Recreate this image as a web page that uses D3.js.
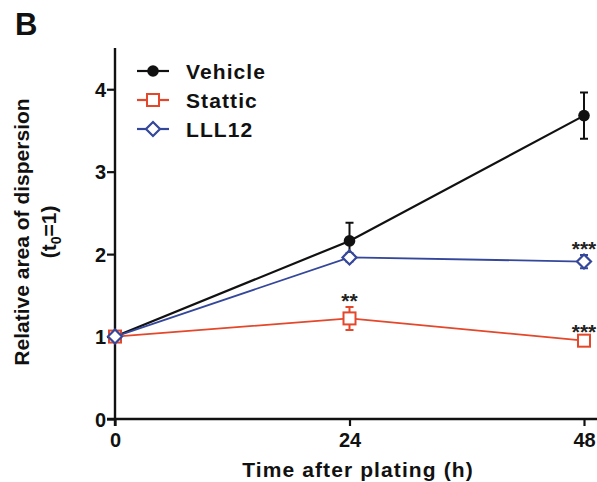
<!DOCTYPE html>
<html>
<head>
<meta charset="utf-8">
<script src="https://cdn.jsdelivr.net/npm/d3@7"></script>
<style>
  body { margin: 0; background: #fff; }
  svg { display: block; font-family: Arial, "Liberation Sans", sans-serif; font-weight: bold; }
</style>
</head>
<body>
<script>
// time points (h)
var times = [0, 24, 48];
var yTicks = [0, 1, 2, 3, 4];
var xTicks = [0, 24, 48];

var vehicleMean = [1, 2.16, 3.68];
var vehicleErr  = [0, 0.22, 0.28];
var statticMean = [1, 1.22, 0.95];
var statticErr  = [0, 0.14, 0.03];
var lllMean     = [1, 1.96, 1.91];
var lllErr      = [0, 0.05, 0.08];

// significance marks: [series, time index, label]
var stars = [
    {series: 'stattic', i: 1, label: '**'},
    {series: 'lll', i: 2, label: '***'},
    {series: 'stattic', i: 2, label: '***'}
];

var W = 597, H = 482;
var FONT = 'Arial, "Liberation Sans", sans-serif';
var svg = d3.select('body').append('svg').attr('width', W).attr('height', H);

var x = d3.scaleLinear().domain([0, 48]).range([115, 584]);
var y = d3.scaleLinear().domain([0, 4.5]).range([419, 48]);

var series = [
    {key: 'vehicle', name: 'Vehicle', mean: vehicleMean, err: vehicleErr, color: '#111111', shape: 'circle'},
    {key: 'stattic', name: 'Stattic', mean: statticMean, err: statticErr, color: '#e4472a', shape: 'square'},
    {key: 'lll', name: 'LLL12', mean: lllMean, err: lllErr, color: '#34479a', shape: 'diamond'}
];

// panel letter
svg.append('text').attr('x', 15).attr('y', 35).attr('font-size', 31).attr('fill', '#111').text('B');

// axes
var yAxis = d3.axisLeft(y).tickValues(yTicks).tickSize(8).tickFormat(d3.format('d'));
var gy = svg.append('g').attr('transform', 'translate(' + x(0) + ',0)').call(yAxis);
gy.select('.domain').attr('d', 'M0,' + (y(0) + 7) + 'V' + y(4.5)).attr('stroke-width', 2.4).attr('stroke', '#111');
gy.selectAll('.tick line').attr('stroke-width', 2.2).attr('stroke', '#111');
gy.selectAll('.tick text').attr('font-size', 20).attr('font-weight', 'bold')
    .attr('font-family', FONT).attr('fill', '#111').attr('x', -9).attr('dy', '0.36em');

var xAxis = d3.axisBottom(x).tickValues(xTicks).tickSize(7);
var gx = svg.append('g').attr('transform', 'translate(0,' + y(0) + ')').call(xAxis);
gx.select('.domain').attr('d', 'M' + (x(0) - 8) + ',0H' + (W + 10)).attr('stroke-width', 2.4).attr('stroke', '#111');
gx.selectAll('.tick line').attr('stroke-width', 2.2).attr('stroke', '#111');
gx.selectAll('.tick text').attr('font-size', 20).attr('font-weight', 'bold')
    .attr('font-family', FONT).attr('fill', '#111').attr('y', 14).attr('dy', '0.71em');

// axis titles
svg.append('text').attr('transform', 'translate(29,232) rotate(-90)')
    .attr('text-anchor', 'middle').attr('font-size', 21).attr('fill', '#111').text('Relative area of dispersion');
var t2 = svg.append('text').attr('transform', 'translate(56,232) rotate(-90)')
    .attr('text-anchor', 'middle').attr('font-size', 21).attr('fill', '#111');
t2.append('tspan').text('(t');
t2.append('tspan').attr('font-size', 14).attr('dy', 5).text('0');
t2.append('tspan').attr('dy', -5).text('=1)');

svg.append('text').attr('x', 358).attr('y', 477).attr('text-anchor', 'middle')
    .attr('font-size', 21).attr('letter-spacing', 1.1).attr('fill', '#111').text('Time after plating (h)');

// markers
function drawMarker(g, shape, cx, cy, color) {
    if (shape === 'circle') {
        g.append('circle').attr('cx', cx).attr('cy', cy).attr('r', 5.8).attr('fill', color);
    } else if (shape === 'square') {
        g.append('rect').attr('x', cx - 6).attr('y', cy - 6).attr('width', 12).attr('height', 12)
            .attr('fill', '#fff').attr('stroke', color).attr('stroke-width', 2);
    } else {
        g.append('path').attr('d', 'M' + cx + ',' + (cy - 7) + 'L' + (cx + 7) + ',' + cy + 'L' + cx + ',' + (cy + 7) + 'L' + (cx - 7) + ',' + cy + 'Z')
            .attr('fill', '#fff').attr('stroke', color).attr('stroke-width', 2.2);
    }
}

var line = d3.line().x(function (d) { return x(d.t); }).y(function (d) { return y(d.v); });

series.forEach(function (s) {
    var pts = times.map(function (t, i) { return {t: t, v: s.mean[i], e: s.err[i]}; });
    var g = svg.append('g');
    g.append('path').datum(pts).attr('d', line).attr('fill', 'none')
        .attr('stroke', s.color).attr('stroke-width', s.key === 'vehicle' ? 2.2 : 1.8);
    pts.forEach(function (p) {
        if (p.e > 0) {
            var cx = x(p.t);
            g.append('path')
                .attr('d', 'M' + cx + ',' + y(p.v - p.e) + 'V' + y(p.v + p.e) +
                    'M' + (cx - 4) + ',' + y(p.v + p.e) + 'H' + (cx + 4) +
                    'M' + (cx - 4) + ',' + y(p.v - p.e) + 'H' + (cx + 4))
                .attr('stroke', s.color).attr('stroke-width', 2).attr('fill', 'none');
        }
    });
    pts.forEach(function (p) { drawMarker(g, s.shape, x(p.t), y(p.v), s.color); });
});

// significance stars
stars.forEach(function (st) {
    var s = series.filter(function (d) { return d.key === st.series; })[0];
    var v = s.mean[st.i] + s.err[st.i];
    svg.append('text').attr('x', x(times[st.i])).attr('y', y(v) + 1)
        .attr('text-anchor', 'middle').attr('font-size', 21).attr('fill', '#222').text(st.label);
});

// legend
var leg = svg.append('g');
series.forEach(function (s, i) {
    var ly = 71 + i * 29;
    leg.append('line').attr('x1', 137).attr('x2', 169).attr('y1', ly).attr('y2', ly)
        .attr('stroke', s.color).attr('stroke-width', 2.2);
    drawMarker(leg, s.shape, 153, ly, s.color);
    leg.append('text').attr('x', 186).attr('y', ly + 7.5).attr('font-size', 21)
        .attr('letter-spacing', 1.1).attr('fill', '#111').text(s.name);
});
</script>
</body>
</html>
